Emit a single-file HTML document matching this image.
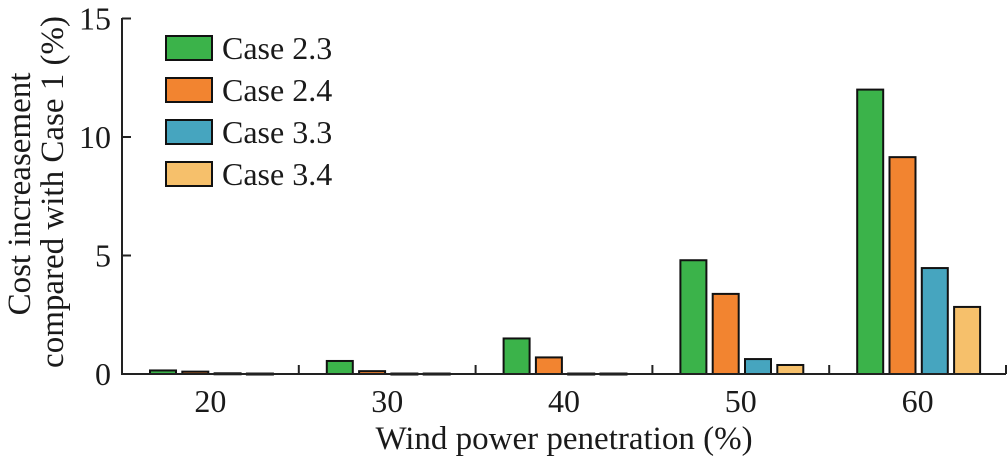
<!DOCTYPE html>
<html><head><meta charset="utf-8"><style>
body{margin:0;background:#fff}
text{font-family:"Liberation Serif",serif;fill:#1a1a1a}
</style></head><body>
<svg width="1008" height="462">
<g id="bars"></g>
<line x1="122" y1="18" x2="122" y2="374" stroke="#222" stroke-width="2"/>
<line x1="121" y1="374" x2="1006" y2="374" stroke="#222" stroke-width="2"/>
<g id="ticks"></g>
<text transform="translate(30,194) rotate(-90)" text-anchor="middle" font-size="33">Cost increasement</text>
<text transform="translate(63,192) rotate(-90)" text-anchor="middle" font-size="33">compared with Case 1 (%)</text>
<text x="564" y="449" text-anchor="middle" font-size="33">Wind power penetration (%)</text>
<g id="legend"></g>
</svg>
<script>
const categories=["20","30","40","50","60"];
const seriesNames=["Case 2.3","Case 2.4","Case 3.3","Case 3.4"];
const case23=[0.15,0.55,1.5,4.8,12.0];
const case24=[0.1,0.12,0.7,3.38,9.15];
const case33=[0.03,0.02,0.02,0.63,4.47];
const case34=[0.02,0.02,0.02,0.38,2.83];
const yTicks=[0,5,10,15];
const series=[case23,case24,case33,case34];
const colors=["#3bb34a","#f28430","#46a5bf","#f6c06b"];
const NS="http://www.w3.org/2000/svg";
const x0=122,gw=176.8,y0=374,k=23.7;
const y=v=>y0-v*k;
function mk(tag,attrs,parent){const e=document.createElementNS(NS,tag);for(const a in attrs)e.setAttribute(a,attrs[a]);parent.appendChild(e);return e;}
const bars=document.getElementById('bars'),ticks=document.getElementById('ticks'),leg=document.getElementById('legend');
series.forEach((s,si)=>s.forEach((v,ci)=>{
 const r=mk('rect',{x:x0+ci*gw+28+si*32.3,y:y(v),width:26,height:Math.max(y0-y(v),1),fill:colors[si],stroke:'#111','stroke-width':2},bars);
 
 
}));
categories.forEach((c,i)=>{
 const t=mk('text',{x:x0+(i+0.5)*gw,y:412,'text-anchor':'middle','font-size':32},ticks);t.textContent=c;
 
 
 const l=mk('line',{x1:x0+(i+1)*gw,x2:x0+(i+1)*gw,y1:y0,y2:y0-9,stroke:'#222','stroke-width':2},ticks);
 
 
});
yTicks.forEach(v=>{
 const t=mk('text',{x:111,y:y(v)+11,'text-anchor':'end','font-size':32},ticks);t.textContent=v;
 
 
 const l=mk('line',{x1:x0,x2:x0+9,y1:y(v),y2:y(v),stroke:'#222','stroke-width':2},ticks);
 
 
});
seriesNames.forEach((n,i)=>{
 const r=mk('rect',{x:166,y:36+i*42,width:46,height:24,fill:colors[i],stroke:'#111','stroke-width':2},leg);
 
 
 const t=mk('text',{x:222,y:59+i*42,'font-size':32},leg);t.textContent=n;
 
 
});
</script>
</body></html>
